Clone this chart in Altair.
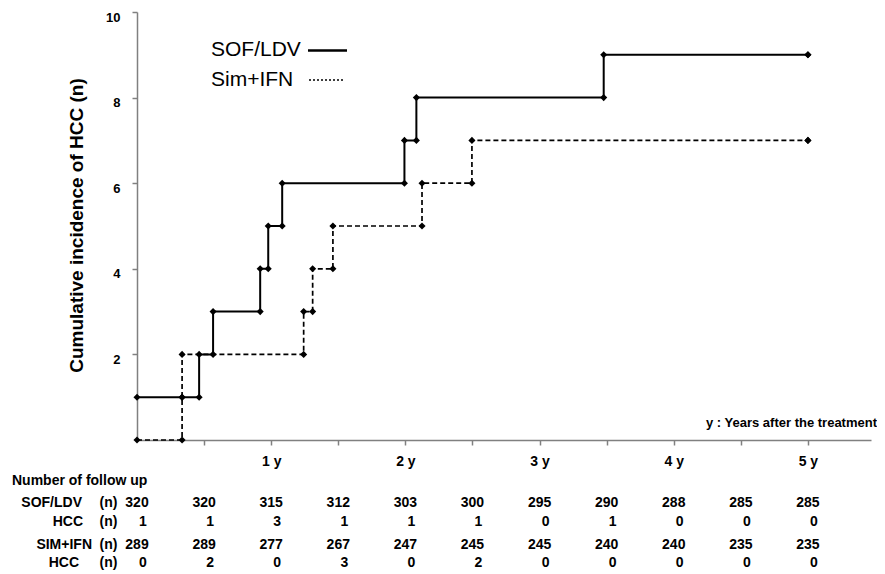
import altair as alt
import pandas as pd

# ---- data ----
sof_t = [0, 0.463, 0.567, 0.918, 0.978, 1.082, 1.993, 2.082, 3.478, 5.0]
sof_n = [1, 2, 3, 4, 5, 6, 7, 8, 9, 9]
sof_extra_t = [0.336]
sof_extra_n = [1]

sim_t = [0, 0.336, 1.242, 1.309, 1.460, 2.124, 2.496, 5.0]
sim_n = [0, 2, 3, 4, 5, 6, 7, 7]
sim_extra_t = [0.336]
sim_extra_n = [1]

col_years = [0, 0.5, 1, 1.5, 2, 2.5, 3, 3.5, 4, 4.5, 5]
sof_follow = [320, 320, 315, 312, 303, 300, 295, 290, 288, 285, 285]
sof_hcc = [1, 1, 3, 1, 1, 1, 0, 1, 0, 0, 0]
sim_follow = [289, 289, 277, 267, 247, 245, 245, 240, 240, 235, 235]
sim_hcc = [0, 2, 0, 3, 0, 2, 0, 0, 0, 0, 0]

FONT = "Liberation Sans"


def step_markers(ts, ns, et, en):
    pts = []
    for i in range(len(ts)):
        pts.append((ts[i], ns[i]))
        if i + 1 < len(ts):
            pts.append((ts[i + 1], ns[i]))
    pts += list(zip(et, en))
    return pd.DataFrame(pts, columns=["t", "n"])


sof_line = pd.DataFrame({"t": sof_t, "n": sof_n})
sim_line = pd.DataFrame({"t": sim_t, "n": sim_n})
sof_pts = step_markers(sof_t, sof_n, sof_extra_t, sof_extra_n)
sim_pts = step_markers(sim_t, sim_n, sim_extra_t, sim_extra_n)

table = pd.DataFrame({
    "t": col_years,
    "sof_f": [str(v) for v in sof_follow],
    "sof_h": [str(v) for v in sof_hcc],
    "sim_f": [str(v) for v in sim_follow],
    "sim_h": [str(v) for v in sim_hcc],
})

GRAY = "#808080"
xscale = alt.Scale(domain=[0, 5.47], nice=False, zero=False)
yscale = alt.Scale(domain=[0, 10], nice=False)

x_axis = alt.Axis(
    values=[0.5, 1, 1.5, 2, 2.5, 3, 3.5, 4, 4.5, 5],
    labelExpr="datum.value % 1 == 0 ? datum.value + ' y' : ''",
    title=None, grid=False,
    domainColor=GRAY, domainWidth=1.5,
    tickColor=GRAY, tickSize=5, tickWidth=1.5,
    labelFont=FONT, labelFontWeight="bold", labelFontSize=14,
    labelColor="black", labelPadding=9, labelFlush=False,
)
y_axis = alt.Axis(
    values=[2, 4, 6, 8, 10],
    title="Cumulative incidence of HCC (n)",
    titleFont=FONT, titleFontWeight="bold", titleFontSize=19,
    titleColor="black", titleAngle=270, titleX=-61, titleY=213,
    titleAlign="center", titleBaseline="middle",
    grid=False,
    domainColor=GRAY, domainWidth=1.5,
    tickColor=GRAY, tickSize=5, tickWidth=1.5,
    labelFont=FONT, labelFontWeight="bold", labelFontSize=13,
    labelColor="black", labelPadding=12, labelOffset=5, labelFlush=False,
)

X = alt.X("t:Q", scale=xscale, axis=x_axis)
Y = alt.Y("n:Q", scale=yscale, axis=y_axis)

line_sof = alt.Chart(sof_line).mark_line(
    interpolate="step-after", color="black", strokeWidth=2
).encode(x=X, y=Y)
line_sim = alt.Chart(sim_line).mark_line(
    interpolate="step-after", color="black", strokeWidth=1.7, strokeDash=[5, 3]
).encode(x=X, y=Y)
pts_sof = alt.Chart(sof_pts).mark_point(
    shape="diamond", filled=True, size=50, color="black", opacity=1
).encode(x=X, y=Y)
pts_sim = alt.Chart(sim_pts).mark_point(
    shape="diamond", filled=True, size=50, color="black", opacity=1
).encode(x=X, y=Y)


def label(text, x, y, size=14, weight="bold", align="left"):
    return alt.Chart(pd.DataFrame({"label": [text]})).mark_text(
        font=FONT, fontSize=size, fontWeight=weight, align=align,
        baseline="middle", color="black"
    ).encode(x=alt.value(x), y=alt.value(y), text="label:N")


def rule(x1, x2, y, dash=None, width=2.5):
    kw = dict(color="black", strokeWidth=width)
    if dash:
        kw["strokeDash"] = dash
    return alt.Chart(pd.DataFrame({"k": [0]})).mark_rule(**kw).encode(
        x=alt.value(x1), x2=alt.value(x2), y=alt.value(y)
    )


legend = [
    label("SOF/LDV", 74, 38, size=21, weight="normal"),
    rule(171, 210, 38.5, width=2.5),
    label("Sim+IFN", 74, 68, size=21, weight="normal"),
    rule(172, 208, 68, dash=[2, 2], width=1.6),
]

note = label("y : Years after the treatment", 740, 411, size=13, align="right")


def table_row(field, y, dx=0):
    return alt.Chart(table).mark_text(
        font=FONT, fontSize=14, fontWeight="bold", align="center",
        baseline="middle", color="black", dx=dx
    ).encode(x=alt.X("t:Q", scale=xscale, axis=x_axis), y=alt.value(y), text=f"{field}:N")


rows = [
    label("Number of follow up", -125, 468.5),
    label("SOF/LDV", -55, 491, align="right"),
    label("(n)", -28.5, 491, align="center"),
    label("HCC", -54, 510, align="right"),
    label("(n)", -28.5, 510, align="center"),
    label("SIM+IFN", -45, 533, align="right"),
    label("(n)", -28.5, 533, align="center"),
    label("HCC", -58, 550.5, align="right"),
    label("(n)", -28.5, 550.5, align="center"),
    table_row("sof_f", 491),
    table_row("sof_h", 510, dx=6),
    table_row("sim_f", 533),
    table_row("sim_h", 550.5, dx=6),
]

chart = alt.layer(
    line_sof, line_sim, pts_sof, pts_sim, *legend, note, *rows
).properties(
    width=734, height=428,
    autosize=alt.AutoSizeParams(type="none"),
    padding={"left": 129, "top": 4, "right": 6, "bottom": 134},
    background="white",
).configure_view(stroke=None)

chart.save("out.html", embed_options={"renderer": "svg", "actions": False})
